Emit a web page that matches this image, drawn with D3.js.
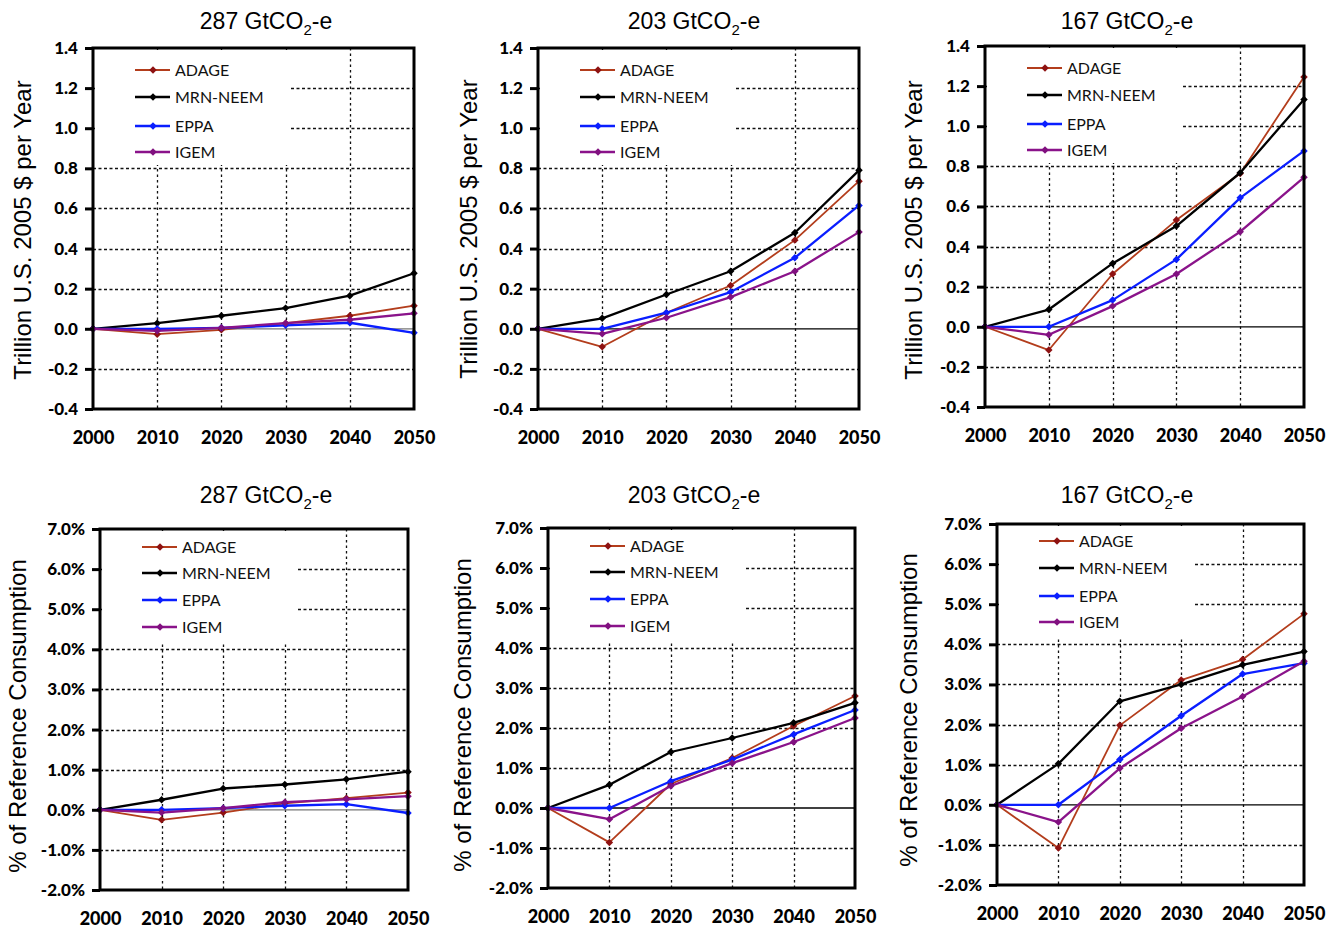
<!DOCTYPE html>
<html>
<head>
<meta charset="utf-8">
<script src="https://cdn.jsdelivr.net/npm/d3@7"></script>
<style>
  body { margin: 0; background: #fff; }
  svg { display: block; }
</style>
</head>
<body>
<svg id="chart" width="1336" height="932"></svg>
<script>
// years on the x axis
const years = [2000, 2010, 2020, 2030, 2040, 2050];
const gridYears = [2010, 2020, 2030, 2040];
const models = ["ADAGE", "MRN-NEEM", "EPPA", "IGEM"];
const scenarios = ["287", "203", "167"];

const dollarTicks = [-0.4, -0.2, 0.0, 0.2, 0.4, 0.6, 0.8, 1.0, 1.2, 1.4];
const pctTicks = [-2, -1, 0, 1, 2, 3, 4, 5, 6, 7];

// trillion 2005 US$ per year, rows in model order
const cost287 = [
  [0, -0.027, -0.005, 0.028, 0.065, 0.115],
  [0, 0.028, 0.065, 0.103, 0.165, 0.277],
  [0, 0.0, 0.005, 0.017, 0.030, -0.020],
  [0, -0.010, 0.005, 0.028, 0.045, 0.077]
];
const cost203 = [
  [0, -0.090, 0.080, 0.216, 0.442, 0.736],
  [0, 0.052, 0.171, 0.287, 0.479, 0.790],
  [0, 0.0, 0.080, 0.183, 0.354, 0.615],
  [0, -0.025, 0.055, 0.158, 0.287, 0.482]
];
const cost167 = [
  [0, -0.116, 0.263, 0.532, 0.764, 1.246],
  [0, 0.086, 0.316, 0.502, 0.768, 1.133],
  [0, 0.0, 0.133, 0.336, 0.643, 0.877],
  [0, -0.040, 0.103, 0.263, 0.474, 0.745]
];

// % of reference consumption
const pct287 = [
  [0, -0.25, -0.07, 0.16, 0.29, 0.43],
  [0, 0.25, 0.53, 0.63, 0.76, 0.95],
  [0, 0.0, 0.04, 0.10, 0.14, -0.08],
  [0, -0.07, 0.04, 0.19, 0.26, 0.34]
];
const pct203 = [
  [0, -0.86, 0.60, 1.25, 2.05, 2.80],
  [0, 0.58, 1.40, 1.75, 2.13, 2.63],
  [0, 0.0, 0.67, 1.21, 1.84, 2.45],
  [0, -0.28, 0.55, 1.12, 1.65, 2.25]
];
const pct167 = [
  [0, -1.08, 1.98, 3.11, 3.62, 4.76],
  [0, 1.02, 2.58, 3.00, 3.49, 3.82],
  [0, 0.0, 1.13, 2.22, 3.26, 3.53],
  [0, -0.43, 0.91, 1.91, 2.70, 3.58]
];

const lineColor = { "ADAGE": "#b33d1c", "MRN-NEEM": "#000", "EPPA": "#0a1eff", "IGEM": "#8a138a" };
const markColor = { "ADAGE": "#8e1212", "MRN-NEEM": "#000", "EPPA": "#0a1eff", "IGEM": "#80107f" };
const lineWidth = { "ADAGE": 1.8, "MRN-NEEM": 2.3, "EPPA": 2.3, "IGEM": 2.3 };

const tickFont = "Lato, 'DejaVu Sans', sans-serif";
const textFont = "'Liberation Sans', Arial, sans-serif";

// panel layout (pixels)
const panels = [
  { data: cost287, sc: 0, kind: "cost", left: 93,  right: 414,  top: 48,  bottom: 409, tx: 266,  ty: 29,  lx: 22,  ly: 230, leg: [22, 49, 78, 104] },
  { data: cost203, sc: 1, kind: "cost", left: 538, right: 859,  top: 48,  bottom: 409, tx: 694,  ty: 29,  lx: 468, ly: 229, leg: [22, 49, 78, 104] },
  { data: cost167, sc: 2, kind: "cost", left: 985, right: 1304, top: 46,  bottom: 407, tx: 1127, ty: 29,  lx: 913, ly: 230, leg: [22, 49, 78, 104] },
  { data: pct287,  sc: 0, kind: "pct",  left: 100, right: 408,  top: 529, bottom: 890, tx: 266,  ty: 503, lx: 17,  ly: 716, leg: [18, 44, 71, 98] },
  { data: pct203,  sc: 1, kind: "pct",  left: 548, right: 855,  top: 528, bottom: 888, tx: 694,  ty: 503, lx: 462, ly: 715, leg: [18, 44, 71, 98] },
  { data: pct167,  sc: 2, kind: "pct",  left: 997, right: 1304, top: 524, bottom: 885, tx: 1127, ty: 503, lx: 908, ly: 710, leg: [17, 44, 72, 98] }
];

const svg = d3.select("#chart");
const diamond = d3.symbol(d3.symbolSquare, 28);

panels.forEach(p => {
  const ticks = p.kind === "cost" ? dollarTicks : pctTicks;
  const x = d3.scaleLinear().domain([2000, 2050]).range([p.left, p.right]);
  const y = d3.scaleLinear().domain([ticks[0], ticks[ticks.length - 1]]).range([p.bottom, p.top]);
  const g = svg.append("g");

  // dotted grid
  g.selectAll(".hgrid")
    .data(ticks.filter(t => t !== 0 && t !== ticks[0] && t !== ticks[ticks.length - 1]))
    .enter().append("line")
    .attr("x1", p.left).attr("x2", p.right)
    .attr("y1", d => Math.round(y(d)) + 0.5).attr("y2", d => Math.round(y(d)) + 0.5)
    .attr("stroke", "#111").attr("stroke-width", 1.3)
    .attr("stroke-dasharray", "3,2.5");
  g.selectAll(".vgrid")
    .data(gridYears)
    .enter().append("line")
    .attr("x1", d => Math.round(x(d)) + 0.5).attr("x2", d => Math.round(x(d)) + 0.5)
    .attr("y1", p.top).attr("y2", p.bottom)
    .attr("stroke", "#111").attr("stroke-width", 1.3)
    .attr("stroke-dasharray", "2.5,3");

  // zero line
  g.append("line")
    .attr("x1", p.left).attr("x2", p.right)
    .attr("y1", y(0)).attr("y2", y(0))
    .attr("stroke", p.sc === 0 ? "#777" : "#000").attr("stroke-width", 1.3);

  // legend background hides grid behind it
  g.append("rect")
    .attr("x", p.left + 2).attr("y", p.top + 2)
    .attr("width", 196).attr("height", p.kind === "cost" ? 115 : 113)
    .attr("fill", "#fff");

  // series lines
  const line = d3.line().x((d, i) => x(years[i])).y(d => y(d));
  models.forEach((m, k) => {
    const vals = p.data[k];
    g.append("path")
      .attr("d", line(vals))
      .attr("fill", "none")
      .attr("stroke", lineColor[m])
      .attr("stroke-width", lineWidth[m])
      .attr("stroke-linejoin", "round");
    g.selectAll(null)
      .data(vals)
      .enter().append("path")
      .attr("d", diamond)
      .attr("transform", (d, i) => `translate(${x(years[i])},${y(d)}) rotate(45)`)
      .attr("fill", markColor[m]);
  });

  // legend
  models.forEach((m, k) => {
    const ly = p.top + p.leg[k];
    g.append("line")
      .attr("x1", p.left + 42).attr("x2", p.left + 77)
      .attr("y1", ly).attr("y2", ly)
      .attr("stroke", lineColor[m]).attr("stroke-width", lineWidth[m]);
    g.append("path")
      .attr("d", diamond)
      .attr("transform", `translate(${p.left + 60},${ly}) rotate(45)`)
      .attr("fill", markColor[m]);
    g.append("text")
      .attr("x", p.left + 82).attr("y", ly + 6)
      .attr("font-family", tickFont)
      .attr("font-size", 16)
      .attr("fill", "#111")
      .text(m);
  });

  // frame
  g.append("rect")
    .attr("x", p.left).attr("y", p.top)
    .attr("width", p.right - p.left).attr("height", p.bottom - p.top)
    .attr("fill", "none").attr("stroke", "#000").attr("stroke-width", 3);

  // y axis ticks and labels
  const fmt = p.kind === "cost" ? (d => d.toFixed(1)) : (d => d.toFixed(1) + "%");
  const yAxis = g.append("g")
    .attr("transform", `translate(${p.left},0)`)
    .call(d3.axisLeft(y).tickValues(ticks).tickSize(8).tickPadding(7).tickFormat(fmt));
  yAxis.select(".domain").remove();
  yAxis.selectAll(".tick line").attr("stroke", "#000").attr("stroke-width", 3);
  yAxis.selectAll(".tick text")
    .attr("font-family", tickFont).attr("font-weight", 900)
    .attr("font-size", 17).attr("fill", "#000");

  // x axis labels
  const xAxis = g.append("g")
    .attr("transform", `translate(0,${p.bottom})`)
    .call(d3.axisBottom(x).tickValues(years).tickSize(0).tickPadding(22).tickFormat(d3.format("d")));
  xAxis.select(".domain").remove();
  xAxis.selectAll(".tick text")
    .attr("font-family", tickFont).attr("font-weight", 900)
    .attr("font-size", 18).attr("fill", "#000");

  // title with subscript
  const title = g.append("text")
    .attr("x", p.tx).attr("y", p.ty)
    .attr("text-anchor", "middle")
    .attr("font-family", textFont)
    .attr("font-size", 23)
    .attr("fill", "#000");
  title.append("tspan").text(scenarios[p.sc] + " GtCO");
  title.append("tspan").attr("font-size", 15).attr("dy", 6).text("2");
  title.append("tspan").attr("dy", -6).text("-e");

  // y axis title
  g.append("text")
    .attr("transform", `translate(${p.lx + 9},${p.ly}) rotate(-90)`)
    .attr("text-anchor", "middle")
    .attr("font-family", textFont)
    .attr("font-size", 24)
    .attr("fill", "#000")
    .text(p.kind === "cost" ? "Trillion U.S. 2005 $ per Year" : "% of Reference Consumption");
});
</script>
</body>
</html>
